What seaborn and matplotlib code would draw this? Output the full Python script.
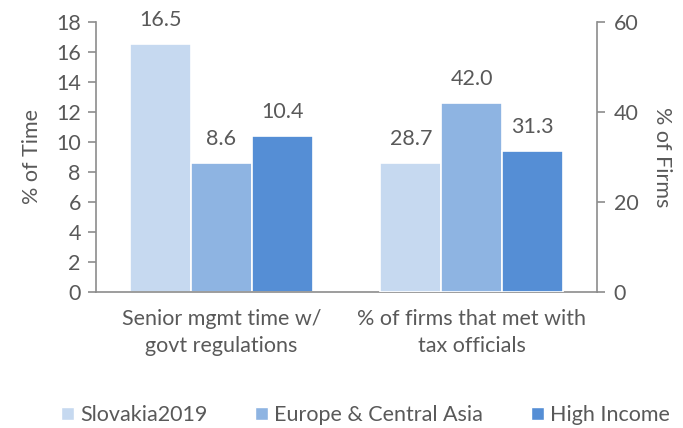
import pandas as pd
import matplotlib.pyplot as plt
import seaborn as sns
from matplotlib.patches import Patch

# Chart data
categories = ["Senior mgmt time w/\ngovt regulations", "% of firms that met with\ntax officials"]
series = ["Slovakia2019", "Europe & Central Asia", "High Income"]
time_values = [16.5, 8.6, 10.4]    # left axis, % of Time
firms_values = [28.7, 42.0, 31.3]  # right axis, % of Firms
colors = ["#c6d9f0", "#8eb4e2", "#558ed5"]

df_time = pd.DataFrame({"category": categories[0], "series": series, "value": time_values})
df_firms = pd.DataFrame({"category": categories[1], "series": series, "value": firms_values})

sns.set_style("white")
plt.rcParams["font.family"] = ["Lato", "DejaVu Sans"]
grey = "#595959"
axis_grey = "#8c8c8c"
fs = 15.5

fig = plt.figure(figsize=(6.83, 4.28), dpi=100)
ax = fig.add_axes([0.1406, 0.318, 0.7335, 0.631])
ax2 = ax.twinx()

sns.barplot(data=df_time, x="category", y="value", hue="series", order=categories,
            hue_order=series, palette=colors, width=0.73, edgecolor="white",
            linewidth=1.2, saturation=1, legend=False, ax=ax)
sns.barplot(data=df_firms, x="category", y="value", hue="series", order=categories,
            hue_order=series, palette=colors, width=0.73, edgecolor="white",
            linewidth=1.2, saturation=1, legend=False, ax=ax2)

for a in (ax, ax2):
    for c in a.containers:
        a.bar_label(c, fmt="%.1f", padding=10, fontsize=fs, color=grey)
    a.set_xlim(-0.5, 1.5)

ax.set_ylim(0, 18)
ax.set_yticks(range(0, 19, 2))
ax2.set_ylim(0, 60)
ax2.set_yticks([0, 20, 40, 60])

ax.set_xticks([0, 1])
ax.set_xticklabels(categories, fontsize=fs, color=grey, linespacing=1.45)
ax.set_xticks([-0.5, 0.5, 1.5], minor=True)
ax.tick_params(axis="x", which="major", length=0, pad=12)
ax.tick_params(axis="x", which="minor", length=6, width=1.2, color=axis_grey, direction="out")
ax.tick_params(axis="y", length=6, width=1.2, color=axis_grey, labelsize=fs, labelcolor=grey,
               direction="out", pad=5)
ax2.tick_params(axis="y", length=6, width=1.2, color=axis_grey, labelsize=fs, labelcolor=grey,
                direction="out", pad=6)
ax2.tick_params(axis="x", length=0)

ax.set_xlabel("")
ax2.set_xlabel("")
ax.set_ylabel("% of Time", fontsize=fs, color=grey, labelpad=10)
ax2.set_ylabel("% of Firms", fontsize=fs, color=grey, rotation=270, labelpad=24)

for a in (ax, ax2):
    a.spines["top"].set_visible(False)
    for side in ("left", "right", "bottom"):
        a.spines[side].set_color(axis_grey)
        a.spines[side].set_linewidth(1.2)
ax.spines["right"].set_visible(False)
ax2.spines["left"].set_visible(False)
ax2.spines["bottom"].set_visible(False)

handles = [Patch(facecolor=c, label=s) for c, s in zip(colors, series)]
leg = fig.legend(handles=handles, loc="center", bbox_to_anchor=(0.535, 0.03), ncol=3,
                 frameon=False, fontsize=fs, handlelength=0.6, handleheight=0.6,
                 handletextpad=0.3, columnspacing=2.2)
for t in leg.get_texts():
    t.set_color(grey)

fig.savefig("out.png", dpi=100)
